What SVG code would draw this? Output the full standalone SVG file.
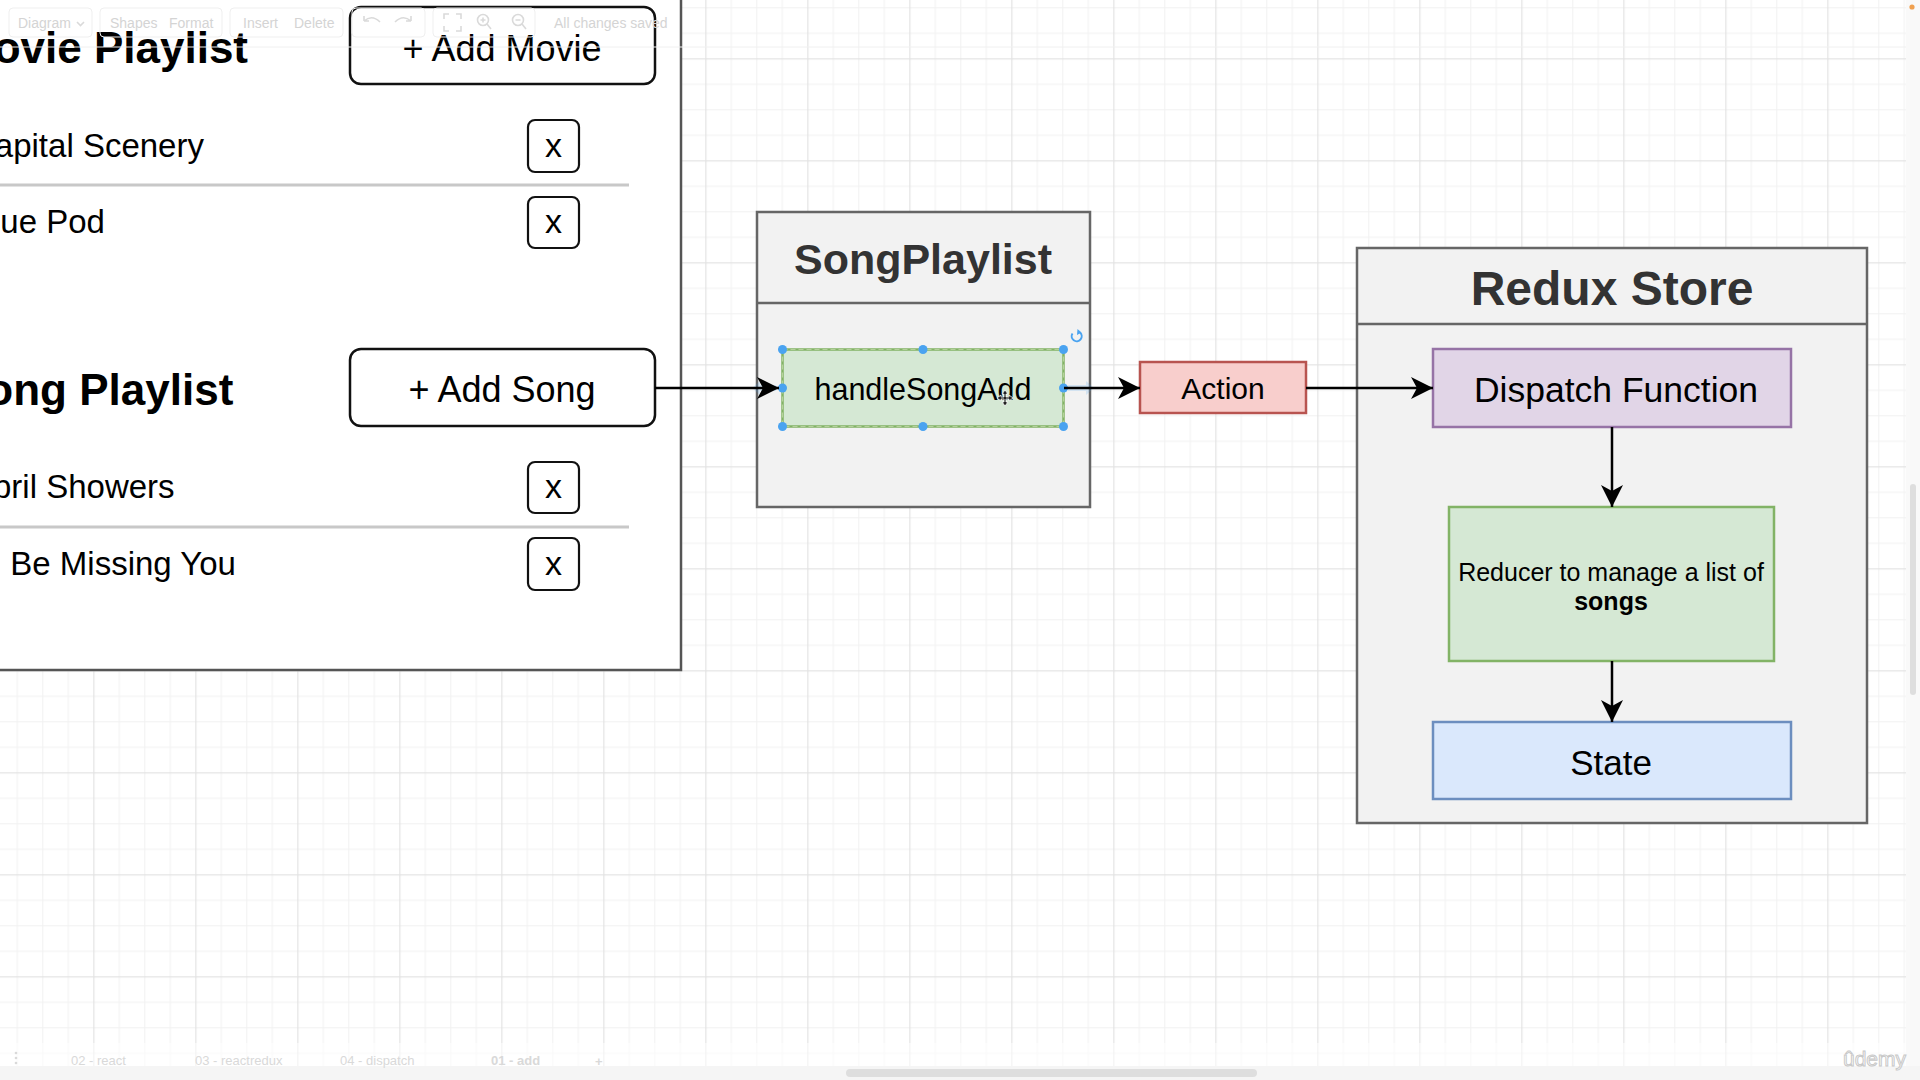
<svg xmlns="http://www.w3.org/2000/svg" width="1920" height="1080" viewBox="0 0 1920 1080">
  <style>
    .sans { font-family: "Liberation Sans", Arial, Helvetica, sans-serif; }
    .item { font-family: "Liberation Sans", Arial, sans-serif; font-size: 33px; fill: #000; }
    .hdr { font-family: "Liberation Sans", Arial, sans-serif; font-size: 44px; font-weight: bold; fill: #000; }
    .btn { fill: #fff; stroke: #111; stroke-width: 2.5; }
    .btntxt { font-family: "Liberation Sans", Arial, sans-serif; font-size: 36px; fill: #000; text-anchor: middle; }
    .xbox { fill: #fff; stroke: #111; stroke-width: 2.2; }
    .xtxt { font-family: "Liberation Sans", Arial, sans-serif; font-size: 34px; fill: #000; text-anchor: middle; }
    .divider { stroke: #c8c8c8; stroke-width: 3; }
    .swim { fill: #f2f2f2; stroke: #666; stroke-width: 2.5; }
    .swimtitle { font-family: "Liberation Sans", Arial, sans-serif; font-weight: bold; fill: #333; text-anchor: middle; }
    .lbl { font-family: "Liberation Sans", Arial, sans-serif; fill: #000; text-anchor: middle; }
    .edge { stroke: #000; stroke-width: 2.5; fill: none; }
    .handle { fill: #4aa3f0; }
    .tb { font-family: "Liberation Sans", Arial, sans-serif; font-size: 14px; fill: #d4d4d4; }
    .tbbox { fill: none; stroke: #efefef; stroke-width: 1; }
    .tbicon { fill: none; stroke: #dadada; stroke-width: 1.6; }
    .tab { font-family: "Liberation Sans", Arial, sans-serif; font-size: 13px; fill: #d9d9d9; }
  </style>
  <defs>
    <pattern id="grid" patternUnits="userSpaceOnUse" x="93.3" y="58.3" width="102" height="102">
      <rect x="25.5" y="0" width="1" height="102" fill="#f1f1f1"/>
      <rect x="51" y="0" width="1" height="102" fill="#f1f1f1"/>
      <rect x="76.5" y="0" width="1" height="102" fill="#f1f1f1"/>
      <rect x="0" y="25.5" width="102" height="1" fill="#f1f1f1"/>
      <rect x="0" y="51" width="102" height="1" fill="#f1f1f1"/>
      <rect x="0" y="76.5" width="102" height="1" fill="#f1f1f1"/>
      <rect x="0" y="0" width="1.2" height="102" fill="#e2e2e2"/>
      <rect x="0" y="0" width="102" height="1.2" fill="#e2e2e2"/>
    </pattern>
    <marker id="arrow" viewBox="0 0 22 22" refX="22" refY="11" markerWidth="22" markerHeight="22" markerUnits="userSpaceOnUse" orient="auto">
      <path d="M0,0 L22,11 L0,22 L6,11 Z" fill="#000"/>
    </marker>
  </defs>

  <!-- canvas -->
  <rect x="0" y="0" width="1920" height="1080" fill="#ffffff"/>
  <rect x="0" y="0" width="1906" height="1066" fill="url(#grid)"/>
  <rect x="1906" y="0" width="14" height="1080" fill="#f9f9f9"/>

  <!-- left mockup panel -->
  <g id="playlist-panel">
    <rect x="-10" y="-10" width="691" height="680" fill="#fff" stroke="#555" stroke-width="2.5"/>
  </g>

  <g id="movie-playlist">
    <text class="hdr" x="-43" y="63">Movie Playlist</text>
  </g>
  <g id="add-movie-button">
    <rect class="btn" x="350" y="7" width="305" height="77" rx="11"/>
    <text class="btntxt" x="502" y="61">+ Add Movie</text>
  </g>
  <g id="movie-item-1">
    <text class="item" x="-29" y="157">Capital Scenery</text>
    <rect class="xbox" x="528" y="120" width="51" height="52" rx="7"/>
    <text class="xtxt" x="553.5" y="157">x</text>
  </g>
  <line class="divider" x1="0" y1="185" x2="629" y2="185"/>
  <g id="movie-item-2">
    <text class="item" x="-29" y="233">Blue Pod</text>
    <rect class="xbox" x="528" y="197" width="51" height="51" rx="7"/>
    <text class="xtxt" x="553.5" y="233">x</text>
  </g>

  <g id="song-playlist">
    <text class="hdr" x="-43" y="405">Song Playlist</text>
  </g>
  <g id="add-song-button">
    <rect class="btn" x="350" y="349" width="305" height="77" rx="11"/>
    <text class="btntxt" x="502" y="402">+ Add Song</text>
  </g>
  <g id="song-item-1">
    <text class="item" x="-29" y="498">April Showers</text>
    <rect class="xbox" x="528" y="462" width="51" height="51" rx="7"/>
    <text class="xtxt" x="553.5" y="498">x</text>
  </g>
  <line class="divider" x1="0" y1="527" x2="629" y2="527"/>
  <g id="song-item-2">
    <text class="item" x="-29" y="575">I'll Be Missing You</text>
    <rect class="xbox" x="528" y="538" width="51" height="52" rx="7"/>
    <text class="xtxt" x="553.5" y="575">x</text>
  </g>

  <!-- SongPlaylist component -->
  <g id="songplaylist-component">
    <rect class="swim" x="757" y="212" width="333" height="295"/>
    <line x1="757" y1="303" x2="1090" y2="303" stroke="#666" stroke-width="2.5"/>
    <text class="swimtitle" x="923" y="274" font-size="43">SongPlaylist</text>
  </g>

  <g id="handleSongAdd">
    <rect x="782.5" y="349.5" width="281" height="77" fill="#d5e8d4" stroke="#82b366" stroke-width="2.5"/>
    <rect x="782.5" y="349.5" width="281" height="77" fill="none" stroke="#b5d19c" stroke-width="1.2" stroke-dasharray="5 3"/>
    <text class="lbl" x="923" y="400" font-size="30.5">handleSongAdd</text>
    <!-- selection handles -->
    <circle class="handle" cx="782.5" cy="349.5" r="4.5"/>
    <circle class="handle" cx="923" cy="349.5" r="4.5"/>
    <circle class="handle" cx="1063.5" cy="349.5" r="4.5"/>
    <circle class="handle" cx="782.5" cy="388" r="4.5"/>
    <circle class="handle" cx="1063.5" cy="388" r="4.5"/>
    <circle class="handle" cx="782.5" cy="426.5" r="4.5"/>
    <circle class="handle" cx="923" cy="426.5" r="4.5"/>
    <circle class="handle" cx="1063.5" cy="426.5" r="4.5"/>
    <path d="M1080,332.5 A5,5 0 1 1 1072.5,333.5" fill="none" stroke="#4aa3f0" stroke-width="2"/>
    <path d="M1077.5,329 L1081.5,332.5 L1077,335 Z" fill="#4aa3f0"/>
    <!-- hover hints -->
    <path d="M1068,385 L1086,385 L1086,381 L1094,388 L1086,395 L1086,391 L1068,391 Z" fill="#4aa3f0" opacity="0.18"/>
    <path d="M776,385 L760,385 L760,381 L752,388 L760,395 L760,391 L776,391 Z" fill="#4aa3f0" opacity="0.18"/>
    <!-- move cursor -->
    <g transform="translate(1005,398)" fill="#222" stroke="#fff" stroke-width="0.8">
      <path d="M0,-8 L3,-4 L1,-4 L1,-1 L4,-1 L4,-3 L8,0 L4,3 L4,1 L1,1 L1,4 L3,4 L0,8 L-3,4 L-1,4 L-1,1 L-4,1 L-4,3 L-8,0 L-4,-3 L-4,-1 L-1,-1 L-1,-4 L-3,-4 Z"/>
    </g>
  </g>

  <g id="action">
    <rect x="1140" y="362" width="166" height="51" fill="#f8cecc" stroke="#b85450" stroke-width="2.5"/>
    <text class="lbl" x="1223" y="399" font-size="30">Action</text>
  </g>

  <!-- Redux Store -->
  <g id="redux-store">
    <rect class="swim" x="1357" y="248" width="510" height="575"/>
    <line x1="1357" y1="324" x2="1867" y2="324" stroke="#666" stroke-width="2.5"/>
    <text class="swimtitle" x="1612" y="305" font-size="48">Redux Store</text>
  </g>
  <g id="dispatch-function">
    <rect x="1433" y="349" width="358" height="78" fill="#e1d5e7" stroke="#9673a6" stroke-width="2.5"/>
    <text class="lbl" x="1616" y="402" font-size="35.5">Dispatch Function</text>
  </g>
  <g id="reducer">
    <rect x="1449" y="507" width="325" height="154" fill="#d5e8d4" stroke="#82b366" stroke-width="2.5"/>
    <text class="lbl" x="1611" y="581" font-size="25">Reducer to manage a list of</text>
    <text class="lbl" x="1611" y="610" font-size="25" font-weight="bold">songs</text>
  </g>
  <g id="state">
    <rect x="1433" y="722" width="358" height="77" fill="#dae8fc" stroke="#6c8ebf" stroke-width="2.5"/>
    <text class="lbl" x="1611" y="775" font-size="35">State</text>
  </g>

  <!-- connectors -->
  <g id="connectors">
    <line class="edge" x1="655" y1="388" x2="779" y2="388" marker-end="url(#arrow)"/>
    <line class="edge" x1="1064" y1="388" x2="1140" y2="388" marker-end="url(#arrow)"/>
    <line class="edge" x1="1306" y1="388" x2="1433" y2="388" marker-end="url(#arrow)"/>
    <line class="edge" x1="1612" y1="427" x2="1612" y2="507" marker-end="url(#arrow)"/>
    <line class="edge" x1="1612" y1="661" x2="1612" y2="722" marker-end="url(#arrow)"/>
  </g>

  <!-- faint editor toolbar overlay -->
  <g id="toolbar">
    <line x1="0" y1="47" x2="1906" y2="47" stroke="#f0f0f0" stroke-width="1"/>
    <rect class="tbbox" x="9" y="8" width="83" height="29" rx="4"/>
    <rect class="tbbox" x="100" y="8" width="122" height="29" rx="4"/>
    <rect class="tbbox" x="230" y="8" width="113" height="29" rx="4"/>
    <rect class="tbbox" x="352" y="8" width="73" height="29" rx="4"/>
    <rect class="tbbox" x="433" y="8" width="102" height="29" rx="4"/>
    <text class="tb" x="18" y="28">Diagram</text>
    <path class="tbicon" d="M77,22 L80.5,25.5 L84,22"/>
    <text class="tb" x="110" y="28">Shapes</text>
    <text class="tb" x="169" y="28">Format</text>
    <text class="tb" x="243" y="28">Insert</text>
    <text class="tb" x="294" y="28">Delete</text>
    <path class="tbicon" d="M364,21 Q372,14 380,22 M364,21 L364,16 M364,21 L369,21"/>
    <path class="tbicon" d="M411,21 Q403,14 395,22 M411,21 L411,16 M411,21 L406,21"/>
    <path class="tbicon" d="M444,19 L444,14 L449,14 M456,14 L461,14 L461,19 M461,26 L461,31 L456,31 M449,31 L444,31 L444,26"/>
    <circle class="tbicon" cx="483" cy="20" r="5.5"/>
    <path class="tbicon" d="M487,24 L491,29 M480.5,20 L485.5,20 M483,17.5 L483,22.5"/>
    <circle class="tbicon" cx="518" cy="20" r="5.5"/>
    <path class="tbicon" d="M522,24 L526,29 M515.5,20 L520.5,20"/>
    <text class="tb" x="554" y="28">All changes saved</text>
  </g>

  <!-- faint page tabs -->
  <g id="page-tabs">
    <rect x="0" y="1043" width="1906" height="23" fill="#fff" opacity="0.55"/>
    <rect x="0" y="1066" width="1920" height="14" fill="#f5f5f5"/>
    <circle cx="16" cy="1053" r="1.3" fill="#d9d9d9"/>
    <circle cx="16" cy="1058" r="1.3" fill="#d9d9d9"/>
    <circle cx="16" cy="1063" r="1.3" fill="#d9d9d9"/>
    <text class="tab" x="71" y="1065">02 - react</text>
    <text class="tab" x="195" y="1065">03 - reactredux</text>
    <text class="tab" x="340" y="1065">04 - dispatch</text>
    <text class="tab" x="491" y="1065" font-weight="bold" fill="#cfcfcf">01 - add</text>
    <text class="tab" x="595" y="1066" font-size="18" font-weight="bold">+</text>
    <rect x="846" y="1069" width="411" height="8" rx="4" fill="#dedede"/>
    <rect x="1910" y="484" width="6" height="211" rx="3" fill="#dedede"/>
  </g>

  <!-- watermark -->
  <text x="1843" y="1066" class="sans" font-size="21" fill="#fff" stroke="#c8c8c8" stroke-width="1">ûdemy</text>
  <circle cx="1912" cy="7" r="2.6" fill="#f0a050"/>
</svg>
